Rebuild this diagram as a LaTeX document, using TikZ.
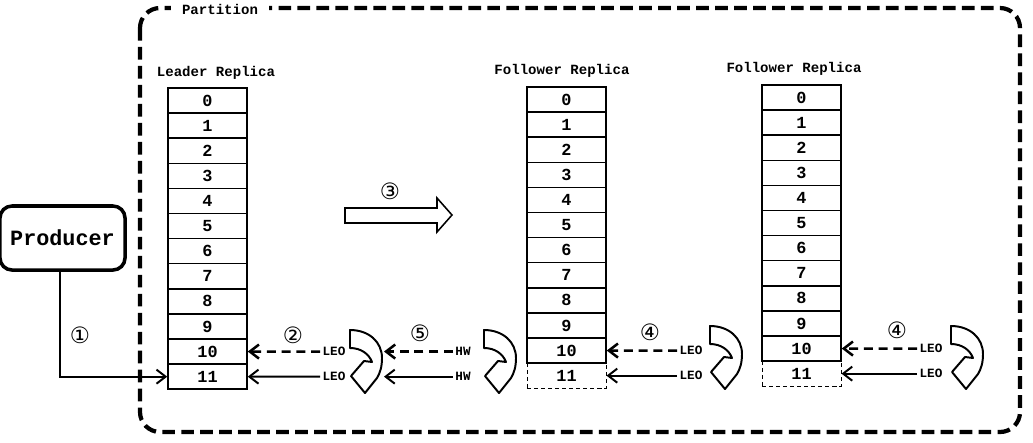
\documentclass[tikz,border=0pt]{standalone}
\usepackage{fontspec}
\setmonofont{Liberation Mono}
\newfontfamily\circfont{DejaVu Sans}
\usetikzlibrary{arrows.meta}

\begin{document}
\begin{tikzpicture} [
    x = 0.025cm, y = -0.025cm,
    cell/.style = { draw, line width = 1.05pt, minimum width = 1.975cm, minimum height = 0.6275cm, inner sep = 0, font = \fontsize{12}{12}\ttfamily\bfseries },
    tail/.style = { cell, line width = 0.7pt, dash pattern = on 3pt off 2pt },
    title/.style = { font = \fontsize{10}{10}\ttfamily\bfseries },
    tag/.style = { font = \fontsize{9}{9}\ttfamily\bfseries, inner sep = 1.5pt },
    circ/.style = { font = \fontsize{16}{16}\circfont },
    feed/.style = { line width = 1.4pt, -{Straight Barb[length=6.5pt, width=10pt]} },
    lag/.style = { feed, line width = 1.8pt, dash pattern = on 6.5pt off 4pt },
    wall/.style = { line width = 3pt, dash pattern = on 9pt off 4.5pt, rounded corners = 0.5cm },
    spin/.pic = {
      \draw[line width = 1.4pt, line join = round, fill = white]
        (0,0) .. controls (19,0) and (32,12) .. (32,28) .. controls (32,37) and (30,43) .. (27,48)
        -- (15,63) -- (1,46) -- (14,31) -- (22,32) .. controls (19,24) and (11,18) .. (0,18) -- cycle;
    }
    ]

    \useasboundingbox (0,0) rectangle (1033,442);

    \draw[wall] (140,8) rectangle (1020,432);
    \node[title, fill = white, inner xsep = 8pt, inner ysep = 1pt] (part) at (220,9) {Partition};

    \foreach \i in {0,...,11}
      \node[cell] (lead-\i) at (207.5, {100.55 + 25.1*\i}) {\i};
    \foreach \i in {0,...,10} {
      \node[cell] (fa-\i) at (566.5, {99.55 + 25.1*\i}) {\i};
      \node[cell] (fb-\i) at (801.5, {97.55 + 25.1*\i}) {\i};
    }
    \node[tail] (fa-11) at (566.5, 375.65) {11};
    \node[tail] (fb-11) at (801.5, 373.65) {11};

    \node[title] (lead-t) at (216,73) {Leader Replica};
    \node[title] (fa-t) at (562,71) {Follower Replica};
    \node[title] (fb-t) at (794,69) {Follower Replica};

    \node[draw, line width = 2.5pt, rounded corners = 0.3cm, minimum width = 3.125cm, minimum height = 1.6cm,
          font = \fontsize{15.5}{15.5}\ttfamily\bfseries] (prod) at (62.5,238) {Producer};
    \path (prod.south) ++(-2.5,0) coordinate (drop);
    \draw[feed] (drop) |- (lead-11);

    \draw[line width = 1.1pt, fill = white]
      (345,208) -- (437,208) -- (437,198) -- (452,215) -- (437,232) -- (437,223) -- (345,223) -- cycle;

    \node[tag] (la-10) at (334,351.55) {LEO};
    \node[tag] (la-11) at (334,376.65) {LEO};
    \draw[lag] (la-10) -- (lead-10);
    \draw[feed] (la-11) -- (lead-11);
    \pic at (350,330) {spin};

    \node[tag] (hw-10) at (463,351.55) {HW};
    \node[tag] (hw-11) at (463,376.65) {HW};
    \coordinate (hw-a) at (384,351.55);
    \coordinate (hw-b) at (384,376.65);
    \draw[lag] (hw-10) -- (hw-a);
    \draw[feed] (hw-11) -- (hw-b);
    \pic at (484,330) {spin};

    \node[tag] (fa-l10) at (691,350.55) {LEO};
    \node[tag] (fa-l11) at (691,375.65) {LEO};
    \draw[lag] (fa-l10) -- (fa-10);
    \draw[feed] (fa-l11) -- (fa-11);
    \pic at (710,326) {spin};

    \node[tag] (fb-l10) at (931,348.55) {LEO};
    \node[tag] (fb-l11) at (931,373.65) {LEO};
    \draw[lag] (fb-l10) -- (fb-10);
    \draw[feed] (fb-l11) -- (fb-11);
    \pic at (951,326) {spin};

    \node[circ] (n1) at (80,335) {①};
    \node[circ] (n2) at (293,335) {②};
    \node[circ] (n3) at (390,191) {③};
    \node[circ] (n5) at (420,333) {⑤};
    \node[circ] (n4a) at (650,332) {④};
    \node[circ] (n4b) at (897,330) {④};
  \end{tikzpicture}
\end{document}
